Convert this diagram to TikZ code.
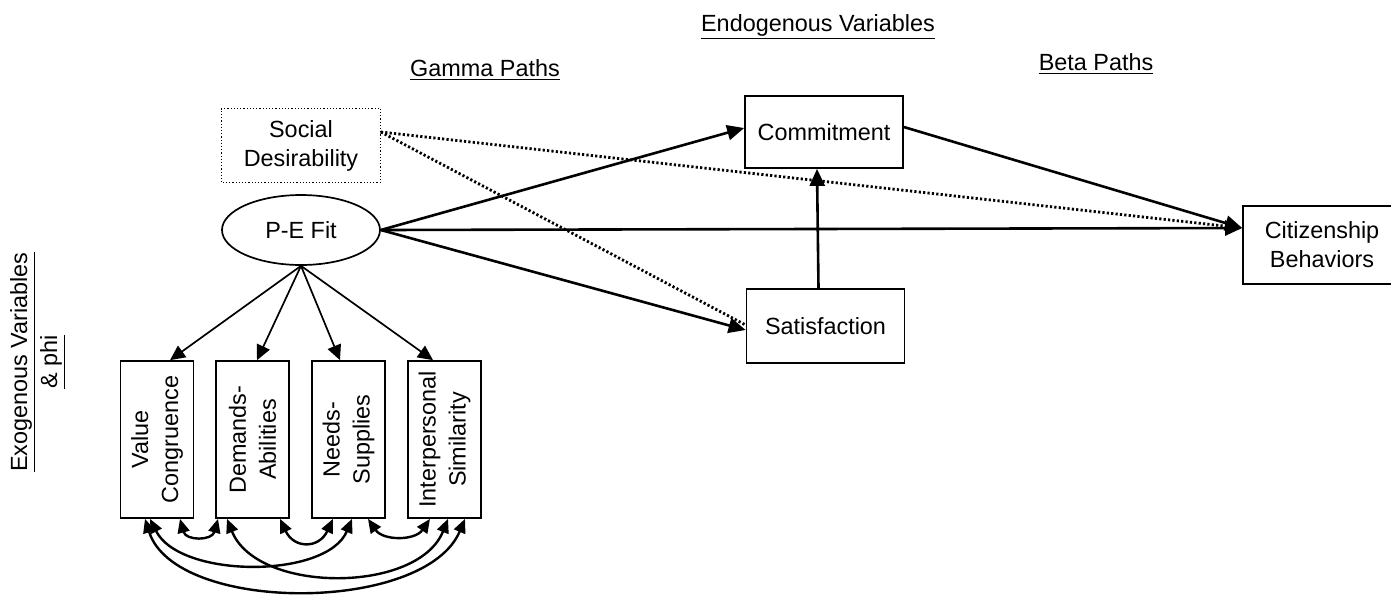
\documentclass[tikz,border=0pt]{standalone}
\usepackage{fontspec}
\setmainfont{Liberation Sans}
\usetikzlibrary{arrows.meta, shapes.geometric, calc}

\tikzset{
	varbox/.style={draw, line width=0.85pt, align=center, inner sep=0pt, minimum width=79pt, minimum height=36pt},
	fitbox/.style={draw, line width=0.85pt, align=center, inner sep=0pt, rotate=90, minimum width=78.5pt, minimum height=36.5pt},
	gammapath/.style={line width=1.3pt, -{Triangle[length=8.5pt,width=7.5pt]}},
	loading/.style={line width=0.85pt, -{Triangle[length=7.5pt,width=7pt]}},
	phicov/.style={line width=1.2pt, {Triangle[length=7pt,width=6pt]}-{Triangle[length=7pt,width=6pt]}},
	biaspath/.style={line width=1.4pt, dash pattern=on 1.1pt off 1.1pt},
}

\begin{document}
\begin{tikzpicture}[x=0.5pt, y=-0.5pt, font=\fontsize{11.7}{14.5}\selectfont]
		\useasboundingbox (0,0) rectangle (1391,596);
		\clip (0,0) rectangle (1391,596);
		% headings
		\node (endo) at (818,27) {\underline{Endogenous Variables}};
		\node (gamma) at (485,70) {\underline{Gamma Paths}};
		\node (beta) at (1096,64) {\underline{Beta Paths}};
		\node[rotate=90, align=center, font=\fontsize{11.7}{15}\selectfont] (exo) at (38,362) {\underline{Exogenous Variables}\\\underline{\& phi}};
		% variables
		\node[varbox, draw=none] (sd) at (301,145.5) {Social\\Desirability};
		\draw[line width=0.6pt, densely dotted] (sd.south west) rectangle (sd.north east);
		\node[draw, ellipse, line width=0.85pt, inner sep=0pt, minimum width=79pt, minimum height=35pt] (pe) at (301,230) {P-E Fit};
		\node[varbox] (com) at (824,132) {Commitment};
		\node[varbox, minimum height=37pt] (sat) at (825.5,326) {Satisfaction};
		\node[varbox, minimum height=39pt] (cit) at (1322,245) {Citizenship\\Behaviors};
		\node[fitbox, font=\fontsize{11.7}{15}\selectfont] (vc) at (157,439.5) {Value\\Congruence};
		\node[fitbox, font=\fontsize{11.7}{15}\selectfont] (da) at (252.5,439.5) {Demands-\\Abilities};
		\node[fitbox, font=\fontsize{11.7}{15}\selectfont] (ns) at (348.5,439.5) {Needs-\\Supplies};
		\node[fitbox, font=\fontsize{11.7}{15}\selectfont] (ip) at (444.5,439.5) {Interpersonal\\Similarity};
		\coordinate (citin) at ([yshift=8.5pt]cit.west);
		% gamma and beta paths
		\draw[biaspath] ([yshift=6.75pt]sd.east) -- (citin);
		\draw[biaspath] ([yshift=6.75pt]sd.east) -- ([yshift=0.5pt]sat.west);
		\draw[gammapath] (pe.east) -- ([yshift=2pt]com.west);
		\draw[gammapath] (pe.east) -- (citin);
		\draw[gammapath] (pe.east) -- ([yshift=-2pt]sat.west);
		\draw[gammapath] ([xshift=-3.5pt]sat.north) -- ([xshift=-3.5pt]com.south);
		\draw[gammapath] ([yshift=2.5pt]com.east) -- (citin);
		% loadings
		\draw[loading] (pe.south) -- ([xshift=6.5pt]vc.east);
		\draw[loading] (pe.south) -- ([xshift=2.25pt]da.east);
		\draw[loading] (pe.south) -- ([xshift=-4.25pt]ns.east);
		\draw[loading] (pe.south) -- ([xshift=-5.75pt]ip.east);
		% phi
		\draw[phicov] ([xshift=11.5pt]vc.west) .. controls +(6,22) and +(-6,22) .. ([xshift=-17.25pt]da.west);
		\draw[phicov] ([xshift=13.75pt]da.west) .. controls +(14,30) and +(-14,30) .. ([xshift=-7.75pt]ns.west);
		\draw[phicov] ([xshift=9.75pt]ns.west) .. controls +(15,22) and +(-15,22) .. ([xshift=-7.25pt]ip.west);
		\draw[phicov] ([xshift=-3.5pt]vc.west) .. controls +(30,60) and +(-25,60) .. ([xshift=1.75pt]ns.west);
		\draw[phicov] ([xshift=-12.75pt]da.west) .. controls +(30,75) and +(-30,75) .. ([xshift=1.75pt]ip.west);
		\draw[phicov] ([xshift=-6pt]vc.west) .. controls +(30,95) and +(-40,95) .. ([xshift=10.25pt]ip.west);
	\end{tikzpicture}
\end{document}
